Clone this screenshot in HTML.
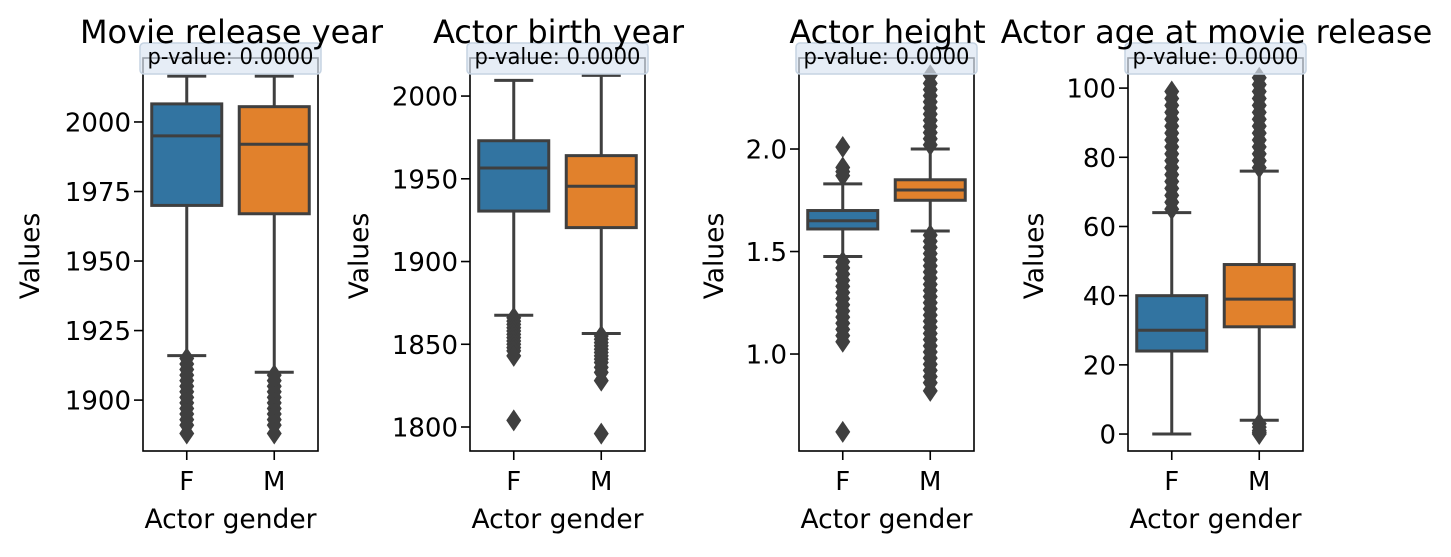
<!DOCTYPE html>
<html><head><meta charset="utf-8"><style>
body{margin:0;background:#fff;}
svg text{font-family:"DejaVu Sans","Liberation Sans",sans-serif;fill:#000;}
</style></head><body>
<svg id="c" width="1451" height="552" xmlns="http://www.w3.org/2000/svg"></svg>
<script>
const titles=["Movie release year","Actor birth year","Actor height","Actor age at movie release"];
const categories=["F","M"];
const axLeft=[143,470,799,1128];
const yDomains=[[1881.7,2023],[1785.5,2023],[0.527,2.444],[-4.9,108.7]];
const yTicks=[[1900,1925,1950,1975,2000],[1800,1850,1900,1950,2000],[1.0,1.5,2.0],[0,20,40,60,80,100]];
const yTickLabels=[["1900","1925","1950","1975","2000"],["1800","1850","1900","1950","2000"],["1.0","1.5","2.0"],["0","20","40","60","80","100"]];
const statsF=[[1916,1970,1995,2006.5,2016.5],[1867.5,1930.5,1956.5,1973,2009.5],[1.476,1.61,1.65,1.70,1.83],[0,24,30,40,64]];
const statsM=[[1910,1967,1992,2005.5,2016.5],[1856.5,1920.5,1945.5,1964,2012.5],[1.60,1.75,1.80,1.85,2.0],[4,31,39,49,76]];
const outF=[[1915,1913,1911,1909,1907,1905,1903,1901,1899,1897,1895,1893,1891,1888],
 [1866,1864,1862,1860,1858,1856,1854,1852,1850,1848,1846,1843,1804],
 [1.87,1.89,1.91,2.01,1.45,1.42,1.39,1.36,1.33,1.30,1.27,1.24,1.21,1.18,1.15,1.12,1.09,1.06,0.62],
 [65,67,69,71,73,75,77,79,81,83,85,87,89,91,93,95,97,99]];
const outM=[[1909,1907,1905,1903,1901,1899,1897,1895,1893,1891,1888],
 [1855,1853,1851,1849,1847,1845,1843,1841,1839,1836,1833,1828,1796],
 [2.02,2.05,2.08,2.11,2.14,2.17,2.20,2.23,2.26,2.29,2.32,2.36,1.58,1.55,1.52,1.49,1.46,1.43,1.40,1.37,1.34,1.31,1.28,1.25,1.22,1.19,1.16,1.13,1.10,1.07,1.04,1.01,0.98,0.95,0.92,0.89,0.86,0.82],
 [77,79,81,83,85,87,89,91,93,95,97,99,101,103,3,2,1,0.5,0]];
const pvals=["0.0000","0.0000","0.0000","0.0000"];
const colors=["#3274a1","#e1812c"];
const NS="http://www.w3.org/2000/svg";
const svg=document.getElementById('c');
function mk(t,a,p){const e=document.createElementNS(NS,t);for(const k in a)e.setAttribute(k,a[k]);(p||svg).appendChild(e);return e;}
const W=175,TOP=58,BOT=451,LC="#3f3f3f";
const yLabelX=[29,358,713,1033];
for(let i=0;i<4;i++){
 const g=mk('g',{});
 
 
 const x0=axLeft[i],[d0,d1]=yDomains[i];
 const y=v=>BOT-(v-d0)/(d1-d0)*(BOT-TOP);
 const xc=k=>x0+W*(0.25+0.5*k);
 yTicks[i].forEach((t,j)=>{
  const l=mk('line',{x1:x0-9,x2:x0,y1:y(t),y2:y(t),stroke:'#000','stroke-width':1.6},g);
  
  const tx=mk('text',{x:x0-12,y:y(t)+9.5,'text-anchor':'end','font-size':26},g);tx.textContent=yTickLabels[i][j];
  
 });
 [statsF[i],statsM[i]].forEach((s,k)=>{
  const c=xc(k),bw=W*0.5*0.8;
  const bg=mk('g',{},g);
  
  
  mk('line',{x1:c,x2:c,y1:y(s[0]),y2:y(s[1]),stroke:LC,'stroke-width':3},bg);
  mk('line',{x1:c,x2:c,y1:y(s[3]),y2:y(s[4]),stroke:LC,'stroke-width':3},bg);
  mk('line',{x1:c-19.5,x2:c+19.5,y1:y(s[0]),y2:y(s[0]),stroke:LC,'stroke-width':3},bg);
  mk('line',{x1:c-19.5,x2:c+19.5,y1:y(s[4]),y2:y(s[4]),stroke:LC,'stroke-width':3},bg);
  mk('rect',{x:c-bw/2,y:y(s[3]),width:bw,height:y(s[1])-y(s[3]),fill:colors[k],stroke:LC,'stroke-width':3},bg);
  mk('line',{x1:c-bw/2,x2:c+bw/2,y1:y(s[2]),y2:y(s[2]),stroke:LC,'stroke-width':3},bg);
  (k?outM:outF)[i].forEach(v=>{
   const yy=y(v);
   const d=mk('path',{d:`M${c} ${yy-11}L${c+7.5} ${yy}L${c} ${yy+11}L${c-7.5} ${yy}Z`,fill:LC},bg);
   
  });
  const tl=mk('line',{x1:c,x2:c,y1:BOT,y2:BOT+9,stroke:'#000','stroke-width':1.6},g);
  
  const tx=mk('text',{x:c,y:490,'text-anchor':'middle','font-size':26},g);tx.textContent=categories[k];
  
 });
 const fr=mk('rect',{x:x0,y:TOP,width:W,height:BOT-TOP,fill:'none',stroke:'#000','stroke-width':1.6},g);
 
 const pb=mk('rect',{x:x0-3,y:43,width:W+6,height:31,rx:4,fill:'#dbe6f2','fill-opacity':0.7,stroke:'#c5d3e2','stroke-width':1.5},g);
 
 const pt=mk('text',{x:x0+W/2,y:64,'text-anchor':'middle','font-size':22,textLength:166,lengthAdjust:'spacingAndGlyphs'},g);pt.textContent='p-value: '+pvals[i];
 
 const tt=mk('text',{x:x0+W/2+1,y:43,'text-anchor':'middle','font-size':32},g);tt.textContent=titles[i];
 
 const xl=mk('text',{x:x0+W/2,y:528,'text-anchor':'middle','font-size':26.5},g);xl.textContent='Actor gender';
 
 const yl=mk('text',{x:0,y:0,'text-anchor':'middle','font-size':26.5,transform:`translate(${yLabelX[i]+10},256) rotate(-90)`},g);yl.textContent='Values';
 
}
</script>
</body></html>
